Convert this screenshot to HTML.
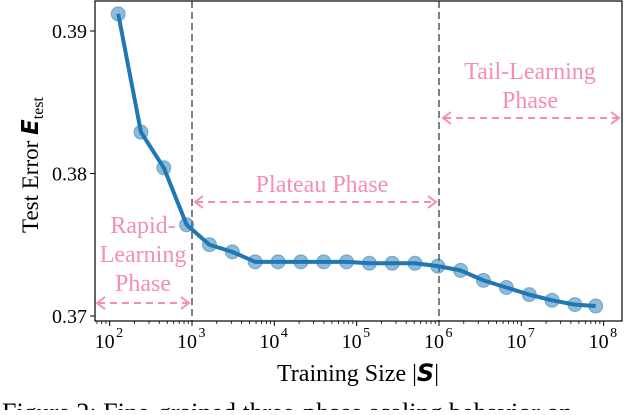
<!DOCTYPE html>
<html><head><meta charset="utf-8"><style>
body{margin:0;background:#fff;width:634px;height:410px;overflow:hidden}
svg text{font-family:"Liberation Serif",serif}
</style></head><body>
<svg id="chart" width="634" height="410" viewBox="0 0 634 410" xmlns="http://www.w3.org/2000/svg"></svg>
<script>
const sizes=[127,240,455,860,1630,3090,5850,11100,21000,39800,75300,142600,270000,511000,968000,1830000,3470000,6580000,12500000,23600000,44700000,80000000];
const errors=[0.3912,0.3829,0.3804,0.3764,0.3750,0.3745,0.3738,0.3738,0.3738,0.3738,0.3738,0.3737,0.3737,0.3737,0.3735,0.3732,0.3725,0.3720,0.3715,0.3711,0.3708,0.3707];
const yTicks=[0.37,0.38,0.39];
const yTickLabels=["0.37","0.38","0.39"];
const xTickExps=[2,3,4,5,6,7,8];
const phaseBounds=[1000,1000000];

const NS="http://www.w3.org/2000/svg";
const svg=document.getElementById('chart');
const L=95,R=622,T=1,B=321;
function xs(v){return 192+(Math.log10(v)-3)*82.33;}
function ys(v){return 316-(v-0.37)*14250;}
function mk(tag,attrs,parent){const e=document.createElementNS(NS,tag);for(const k in attrs)e.setAttribute(k,attrs[k]);(parent||svg).appendChild(e);return e;}

phaseBounds.forEach(b=>{
  const l=mk('line',{x1:xs(b),x2:xs(b),y1:T,y2:B,stroke:'#7f7f7f','stroke-width':2,'stroke-dasharray':'7,4'});
  
  
});
const pink='#f48fb1';
function arrow(x1,x2,y,name){
  const g=mk('g',{});
  
  
  mk('line',{x1:x1+2,x2:x2-2,y1:y,y2:y,stroke:pink,'stroke-width':2,'stroke-dasharray':'7,5'},g);
  mk('path',{d:`M${x1+9},${y-6} L${x1+1},${y} L${x1+9},${y+6}`,fill:'none',stroke:pink,'stroke-width':2},g);
  mk('path',{d:`M${x2-9},${y-6} L${x2-1},${y} L${x2-9},${y+6}`,fill:'none',stroke:pink,'stroke-width':2},g);
}
arrow(96,190,303,'rapid-phase-arrow');
arrow(194,437,202,'plateau-phase-arrow');
arrow(442,620,118,'tail-phase-arrow');
function txt(x,y,s,opts,name){const t=mk('text',Object.assign({x:x,y:y,'text-anchor':'middle','font-size':24,fill:pink},opts||{}));t.textContent=s;return t;}
txt(530,79,'Tail-Learning',{},'tail-phase-label');
txt(530,108,'Phase',{},'tail-phase-label-2');
txt(322,192,'Plateau Phase',{},'plateau-phase-label');
txt(143,233,'Rapid-',{},'rapid-phase-label');
txt(143,262,'Learning',{},'rapid-phase-label-2');
txt(143,291,'Phase',{},'rapid-phase-label-3');

const pts=sizes.map((s,i)=>[xs(s),ys(errors[i])]);
const line=mk('polyline',{points:pts.map(p=>p.join(',')).join(' '),fill:'none',stroke:'#1f77b4','stroke-width':4,'stroke-linejoin':'round'});


pts.forEach(p=>{
  const c=mk('circle',{cx:p[0],cy:p[1],r:7,fill:'#1f77b4','fill-opacity':0.5,stroke:'#1f77b4','stroke-opacity':0.5,'stroke-width':1});
  
  
});

const box=mk('rect',{x:L,y:T,width:R-L,height:B-T,fill:'none',stroke:'#000','stroke-width':1.2});


yTicks.forEach((v,i)=>{
  mk('line',{x1:L-5,x2:L,y1:ys(v),y2:ys(v),stroke:'#000','stroke-width':1});
  const t=mk('text',{x:L-8,y:ys(v)+7,'text-anchor':'end','font-size':20,fill:'#000'});
  t.textContent=yTickLabels[i];
  
  
});
xTickExps.forEach(e=>{
  const x=xs(Math.pow(10,e));
  mk('line',{x1:x,x2:x,y1:B,y2:B+5,stroke:'#000','stroke-width':1});
  const t=mk('text',{x:x-5,y:B+27,'text-anchor':'middle','font-size':20,fill:'#000'});
  t.textContent='10';
  
  
  const s=mk('text',{x:x+10,y:B+16,'text-anchor':'middle','font-size':14,fill:'#000'});
  s.textContent=String(e);
  for(let m=2;m<=9;m++){const xm=xs(m*Math.pow(10,e));if(xm>L&&xm<R)mk('line',{x1:xm,x2:xm,y1:B,y2:B+3,stroke:'#000','stroke-width':0.8});}
});
for(let m=7;m<=9;m++){const xm=xs(m*10);if(xm>L)mk('line',{x1:xm,x2:xm,y1:B,y2:B+3,stroke:'#000','stroke-width':0.8});}
</script>
<svg style="position:absolute;left:0;top:0" width="634" height="410" xmlns="http://www.w3.org/2000/svg">
<text x="358" y="381" text-anchor="middle" font-size="24" font-family="Liberation Serif,serif">Training Size |<tspan font-family="DejaVu Sans,sans-serif" font-weight="bold" font-style="italic">S</tspan>|</text>
<text transform="translate(38,165) rotate(-90)" text-anchor="middle" font-size="23" font-family="Liberation Serif,serif">Test Error <tspan font-family="DejaVu Sans,sans-serif" font-weight="bold" font-style="italic">E</tspan><tspan font-size="16" dy="5">test</tspan></text>
<text x="2" y="421" font-size="26" font-family="Liberation Serif,serif">Figure 2: Fine-grained three-phase scaling behavior on</text>
</svg>
</body></html>
